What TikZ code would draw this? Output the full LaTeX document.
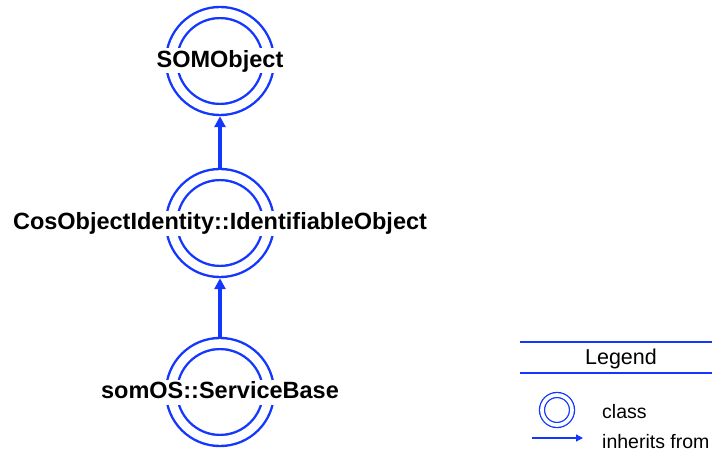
\documentclass[tikz,border=0pt]{standalone}
\usepackage{fontspec}
\setmainfont{Liberation Sans}
\usetikzlibrary{arrows.meta}
\definecolor{ringblue}{RGB}{20,55,255}
\begin{document}
\begin{tikzpicture}[x=1pt,y=-1pt,
  classring/.style={circle, draw=ringblue, line width=2.4pt, double, double distance=8.6pt,
    minimum size=97pt, inner sep=0pt, outer sep=6.7pt},
  classname/.style={fill=white, inner sep=1.5pt, text height=17pt, text depth=5pt,
    font=\fontsize{23.5}{28}\selectfont\bfseries},
  inherit/.style={draw=ringblue, line width=3.2pt, -{Triangle[length=11pt,width=11pt]}},
  legendtext/.style={anchor=base west, inner sep=0pt, font=\fontsize{19.5}{23}\selectfont}]
\useasboundingbox (0,0) rectangle (712,452);

% classes
\node[classring] (som) at (220,61) {};
\node[classring] (cos) at (220,223) {};
\node[classring] (svc) at (220,392) {};

\draw[inherit] (cos) -- (som);
\draw[inherit] (svc) -- (cos);

\node[classname] (somname) at (som.center) {SOMObject};
\node[classname] (cosname) at (cos.center) {CosObjectIdentity::IdentifiableObject};
\node[classname] (svcname) at (svc.center) {somOS::ServiceBase};

% legend
\coordinate (legtopl) at (520,342);
\coordinate (legtopr) at (712,342);
\coordinate (legbotl) at (520,373);
\coordinate (legbotr) at (712,373);
\draw[ringblue, line width=2.2pt] (legtopl) -- (legtopr) (legbotl) -- (legbotr);
\node[font=\fontsize{21.5}{25}\selectfont] (legtitle) at (621,359) {Legend};

\node[classring, line width=1.3pt, double distance=3.7pt, minimum size=30pt, outer sep=3.2pt] (legring) at (557,410) {};
\node[legendtext] (legclass) at (602,418) {class};

\coordinate (legfrom) at (532,438);
\coordinate (legto) at (583,438);
\draw[ringblue, line width=1.3pt, -{Triangle[length=7pt,width=7pt]}] (legfrom) -- (legto);
\node[legendtext] (leginh) at (602,448) {inherits from};
\end{tikzpicture}
\end{document}
